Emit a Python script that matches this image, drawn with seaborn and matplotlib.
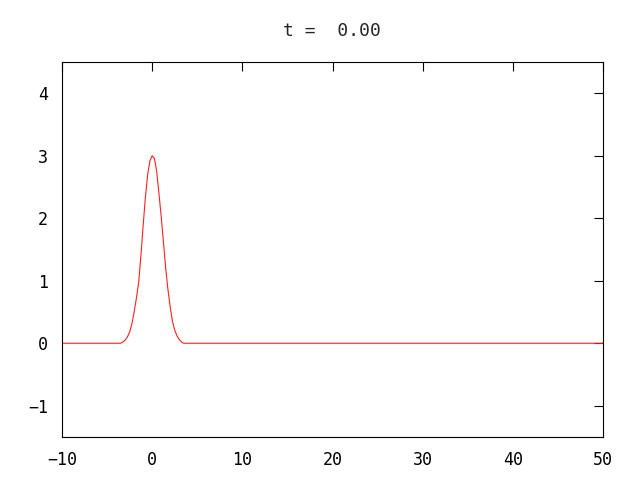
import numpy as np
import pandas as pd
import seaborn as sns
import matplotlib
matplotlib.use('Agg')
import matplotlib.pyplot as plt

# pulse profile (t = 0.00)
x_vals = [-10.0, -3.5, -3.25, -3.0, -2.75, -2.5, -2.25, -2.0, -1.75, -1.5, -1.25,
          -1.0, -0.75, -0.5, -0.25, 0.0, 0.25, 0.5, 0.75, 1.0, 1.25, 1.5,
          1.75, 2.0, 2.25, 2.5, 2.75, 3.0, 3.25, 3.5, 50.0]
u_vals = [0.0, 0.0, 0.02, 0.05, 0.10, 0.18, 0.31, 0.50, 0.72, 0.97, 1.40,
          1.88, 2.34, 2.70, 2.92, 3.0, 2.96, 2.75, 2.40, 2.03, 1.62, 1.20,
          0.86, 0.58, 0.35, 0.21, 0.12, 0.06, 0.02, 0.0, 0.0]
x_ticks = [-10, 0, 10, 20, 30, 40, 50]
y_ticks = [-1, 0, 1, 2, 3, 4]
title = "t =  0.00"

df = pd.DataFrame({'x': x_vals, 'u': u_vals})

sns.set_style("white")
plt.rcParams['font.family'] = ['DejaVu Sans Mono']

fig = plt.figure(figsize=(6.4, 4.8), dpi=100)
ax = fig.add_axes([62/640, 1-437/480, (603-62)/640, (437-62)/480])
sns.lineplot(data=df, x='x', y='u', color='#ff2020', linewidth=0.8, ax=ax)

ax.set_xlim(-10, 50)
ax.set_ylim(-1.5, 4.5)
ax.set_xticks(x_ticks)
ax.set_yticks(y_ticks)
ax.set_xlabel('')
ax.set_ylabel('')
ax.tick_params(direction='in', length=6.5, width=0.8, color='black',
               top=True, right=True, labelsize=12, pad=10, labelcolor='black')
for s in ax.spines.values():
    s.set_color('black')
    s.set_linewidth(0.8)
    s.set_visible(True)

fig.text(332/640, 1-31/480, title, ha='center', va='center', fontsize=13)

fig.savefig('out.png', dpi=100)
